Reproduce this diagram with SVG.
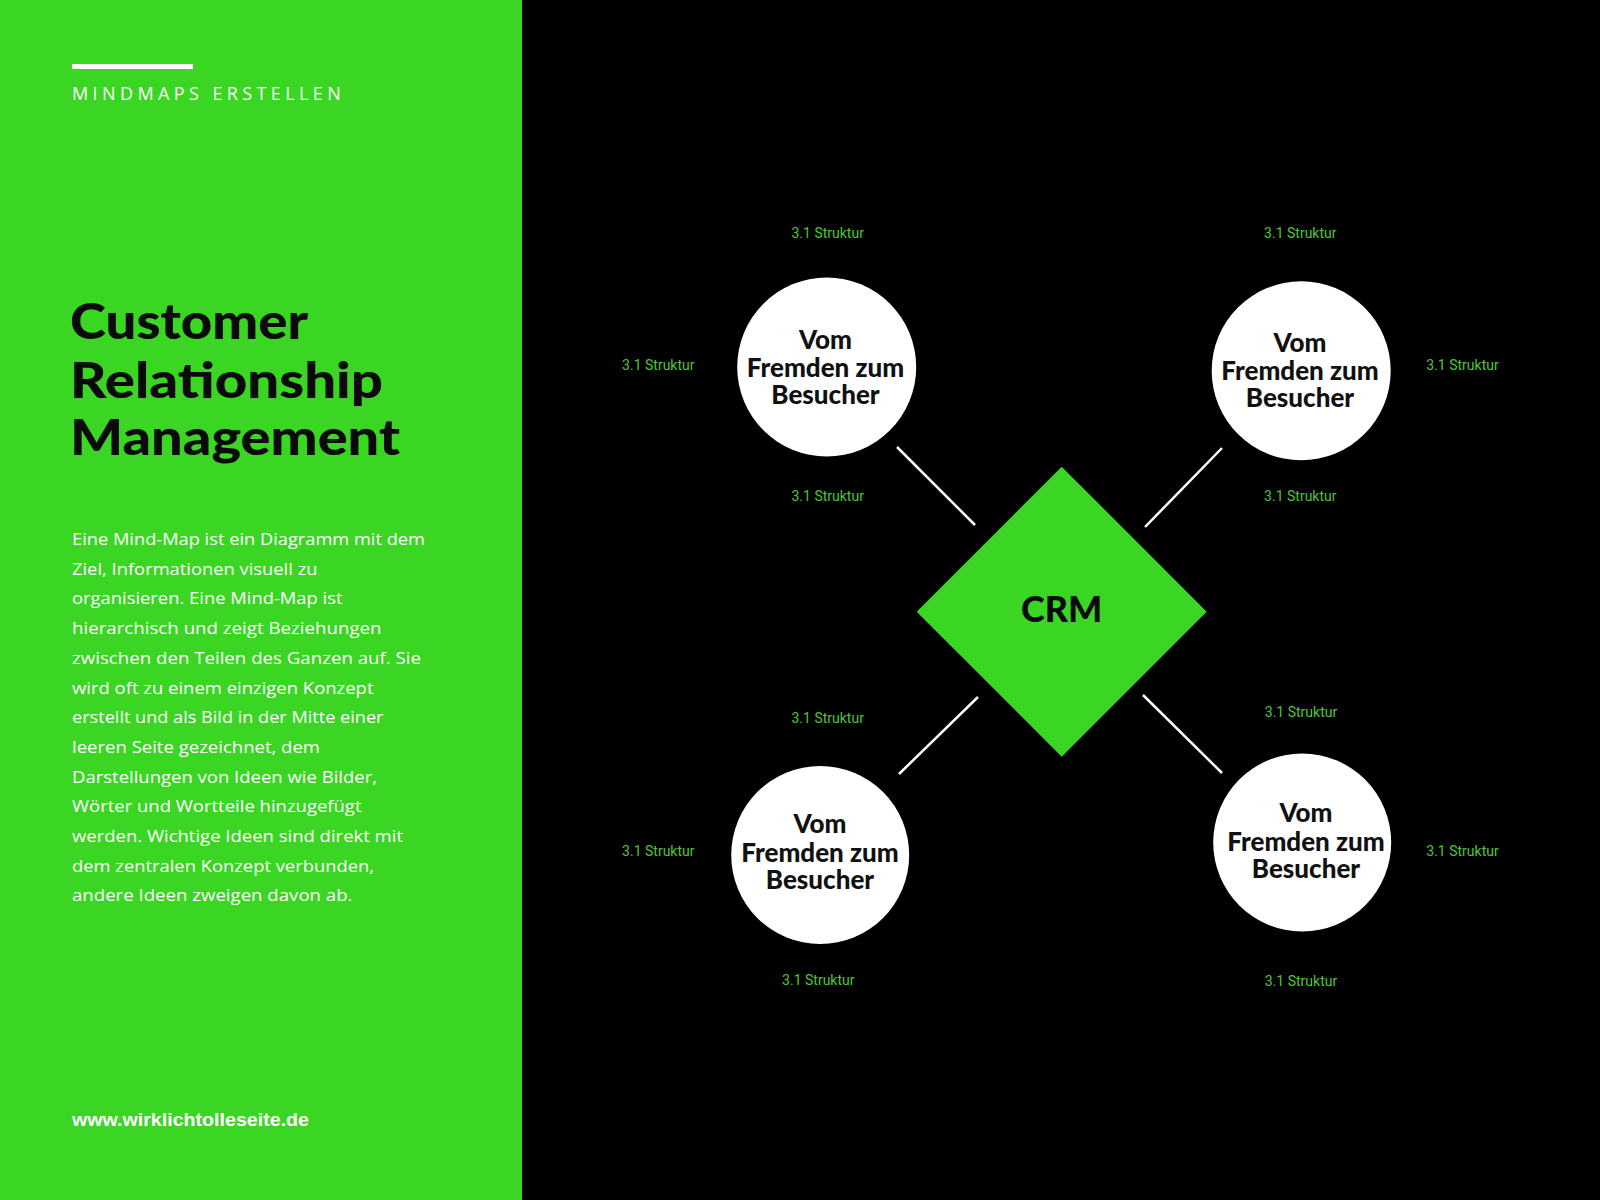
<svg xmlns="http://www.w3.org/2000/svg" width="1600" height="1200" viewBox="0 0 1600 1200">
  <style>
    .lbl { font-family: Roboto, "Liberation Sans", sans-serif; font-size: 14px; fill: #49c836; text-anchor: middle; }
    .node-text { font-family: Lato, "Liberation Sans", sans-serif; font-weight: 900; font-size: 26px; fill: #111111; text-anchor: middle; }
    .para { font-family: "Open Sans", "Liberation Sans", sans-serif; font-size: 16.3px; fill: #ffffff; }
    .title { font-family: Lato, "Liberation Sans", sans-serif; font-weight: 900; font-size: 50px; fill: #0a0a0a; }
    .conn { stroke: #ffffff; stroke-width: 2.5; stroke-linecap: butt; }
    .circ { fill: #ffffff; }
  </style>

  <rect x="0" y="0" width="1600" height="1200" fill="#000000"/>

  <g id="side-panel">
    <rect x="0" y="0" width="522" height="1200" fill="#3bd523"/>
    <rect x="72" y="64" width="121" height="5" fill="#ffffff"/>
    <text x="72" y="100" font-family="'Open Sans', 'Liberation Sans', sans-serif" font-size="18" fill="#ffffff" letter-spacing="4.4">MINDMAPS ERSTELLEN</text>
    <text class="title" x="70" y="339" textLength="238" lengthAdjust="spacingAndGlyphs">Customer</text>
    <text class="title" x="70" y="398" textLength="313" lengthAdjust="spacingAndGlyphs">Relationship</text>
    <text class="title" x="70" y="455" textLength="330" lengthAdjust="spacingAndGlyphs">Management</text>
    <g class="para">
      <text x="72" y="545" textLength="353" lengthAdjust="spacingAndGlyphs">Eine Mind-Map ist ein Diagramm mit dem</text>
      <text x="72" y="574.7" textLength="245.5" lengthAdjust="spacingAndGlyphs">Ziel, Informationen visuell zu</text>
      <text x="72" y="604.4" textLength="270.5" lengthAdjust="spacingAndGlyphs">organisieren. Eine Mind-Map ist</text>
      <text x="72" y="634.1" textLength="309.5" lengthAdjust="spacingAndGlyphs">hierarchisch und zeigt Beziehungen</text>
      <text x="72" y="663.8" textLength="349" lengthAdjust="spacingAndGlyphs">zwischen den Teilen des Ganzen auf. Sie</text>
      <text x="72" y="693.5" textLength="301.5" lengthAdjust="spacingAndGlyphs">wird oft zu einem einzigen Konzept</text>
      <text x="72" y="723.2" textLength="311.5" lengthAdjust="spacingAndGlyphs">erstellt und als Bild in der Mitte einer</text>
      <text x="72" y="752.9" textLength="248" lengthAdjust="spacingAndGlyphs">leeren Seite gezeichnet, dem</text>
      <text x="72" y="782.6" textLength="305" lengthAdjust="spacingAndGlyphs">Darstellungen von Ideen wie Bilder,</text>
      <text x="72" y="812.3" textLength="289.5" lengthAdjust="spacingAndGlyphs">Wörter und Wortteile hinzugefügt</text>
      <text x="72" y="842" textLength="331" lengthAdjust="spacingAndGlyphs">werden. Wichtige Ideen sind direkt mit</text>
      <text x="72" y="871.7" textLength="302" lengthAdjust="spacingAndGlyphs">dem zentralen Konzept verbunden,</text>
      <text x="72" y="901.4" textLength="280.5" lengthAdjust="spacingAndGlyphs">andere Ideen zweigen davon ab.</text>
    </g>
    <text x="72" y="1125.5" font-family="'Liberation Sans', Arial, sans-serif" font-weight="bold" font-size="18" fill="#ffffff" textLength="237" lengthAdjust="spacingAndGlyphs">www.wirklichtolleseite.de</text>
  </g>

  <g id="connectors">
    <line class="conn" x1="897" y1="447" x2="975" y2="525"/>
    <line class="conn" x1="1222" y1="448" x2="1145" y2="527"/>
    <line class="conn" x1="978" y1="697" x2="899" y2="774"/>
    <line class="conn" x1="1143" y1="695" x2="1222" y2="773"/>
  </g>

  <g id="crm">
    <polygon points="1061.7,466.7 1206.7,611.7 1061.7,756.7 916.7,611.7" fill="#3bd523"/>
    <text x="1061.7" y="621.7" font-family="Lato, 'Liberation Sans', sans-serif" font-weight="900" font-size="36" fill="#0a0a0a" text-anchor="middle">CRM</text>
  </g>

  <g id="node-top-left">
    <circle class="circ" cx="826.7" cy="367" r="89.5"/>
    <text class="node-text"><tspan x="825.5" y="349.3">Vom</tspan><tspan x="825.5" y="376.7">Fremden zum</tspan><tspan x="825.5" y="404.3">Besucher</tspan></text>
  </g>
  <g id="node-top-right">
    <circle class="circ" cx="1301.2" cy="370.8" r="89.5"/>
    <text class="node-text"><tspan x="1300" y="351.7">Vom</tspan><tspan x="1300" y="380">Fremden zum</tspan><tspan x="1300" y="407.3">Besucher</tspan></text>
  </g>
  <g id="node-bottom-left">
    <circle class="circ" cx="820.2" cy="855" r="89"/>
    <text class="node-text"><tspan x="820" y="833.3">Vom</tspan><tspan x="820" y="861.7">Fremden zum</tspan><tspan x="820" y="889.3">Besucher</tspan></text>
  </g>
  <g id="node-bottom-right">
    <circle class="circ" cx="1302.2" cy="842.5" r="89"/>
    <text class="node-text"><tspan x="1306" y="821.7">Vom</tspan><tspan x="1306" y="850.7">Fremden zum</tspan><tspan x="1306" y="877.7">Besucher</tspan></text>
  </g>

  <g id="labels">
    <text class="lbl" x="827.7" y="238.3">3.1 Struktur</text>
    <text class="lbl" x="658.3" y="370">3.1 Struktur</text>
    <text class="lbl" x="827.7" y="500.7">3.1 Struktur</text>
    <text class="lbl" x="1300.3" y="238.3">3.1 Struktur</text>
    <text class="lbl" x="1462.5" y="370">3.1 Struktur</text>
    <text class="lbl" x="1300.3" y="500.7">3.1 Struktur</text>
    <text class="lbl" x="827.7" y="722.7">3.1 Struktur</text>
    <text class="lbl" x="658.3" y="856">3.1 Struktur</text>
    <text class="lbl" x="818.3" y="985">3.1 Struktur</text>
    <text class="lbl" x="1301" y="716.7">3.1 Struktur</text>
    <text class="lbl" x="1462.5" y="856">3.1 Struktur</text>
    <text class="lbl" x="1301" y="986">3.1 Struktur</text>
  </g>
</svg>
